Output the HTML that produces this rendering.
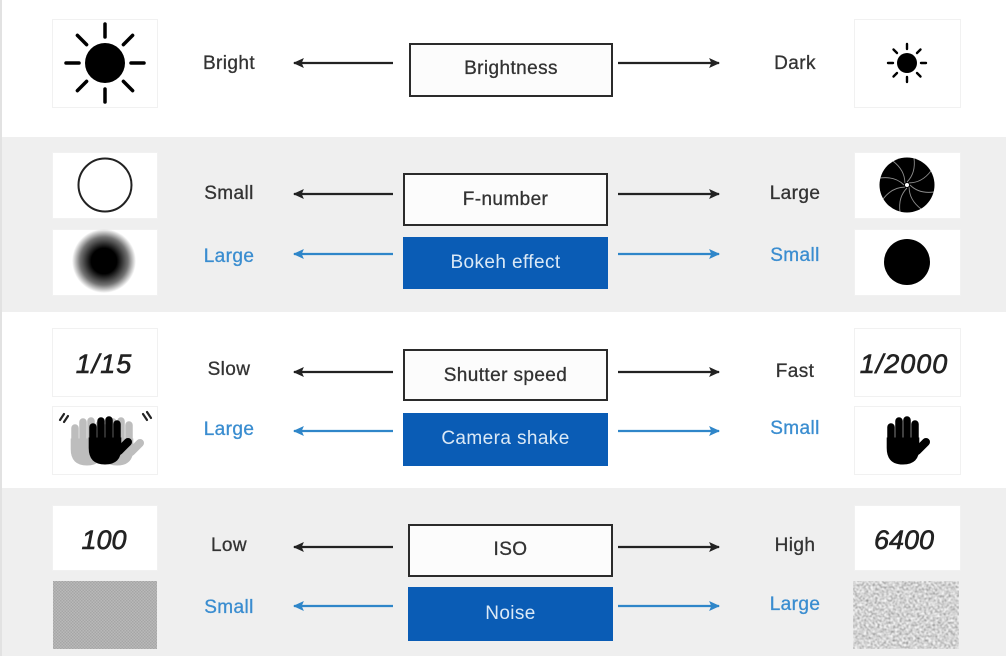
<!DOCTYPE html>
<html><head><meta charset="utf-8"><style>
html,body{margin:0;padding:0;background:#fff;}
svg{display:block;}
text{font-family:"Liberation Sans",Arial,sans-serif;}
</style></head><body>
<svg width="1006" height="656" viewBox="0 0 1006 656" xmlns="http://www.w3.org/2000/svg">
<defs>
  <marker id="ak" viewBox="0 0 10 10" refX="9" refY="5" markerWidth="5" markerHeight="5" orient="auto-start-reverse">
    <path d="M0,0.5 L10,5 L0,9.5 L2,5 Z" fill="#222"/>
  </marker>
  <marker id="ab" viewBox="0 0 10 10" refX="9" refY="5" markerWidth="5" markerHeight="5" orient="auto-start-reverse">
    <path d="M0,0.5 L10,5 L0,9.5 L2,5 Z" fill="#2f86c9"/>
  </marker>
  <radialGradient id="blur" cx="0.5" cy="0.5" r="0.5">
    <stop offset="0" stop-color="#000" stop-opacity="1"/>
    <stop offset="0.4" stop-color="#000" stop-opacity="1"/>
    <stop offset="0.75" stop-color="#000" stop-opacity="0.55"/>
    <stop offset="1" stop-color="#000" stop-opacity="0"/>
  </radialGradient>
  <pattern id="chk" width="3" height="3" patternUnits="userSpaceOnUse">
    <rect width="3" height="3" fill="#b9b9b9"/>
    <rect width="1.5" height="1.5" fill="#a6a6a6"/>
    <rect x="1.5" y="1.5" width="1.5" height="1.5" fill="#a6a6a6"/>
  </pattern>
  <filter id="noise" x="0" y="0" width="100%" height="100%">
    <feTurbulence type="fractalNoise" baseFrequency="0.45" numOctaves="2" seed="7" result="t"/>
    <feColorMatrix in="t" type="matrix" values="1.4 0 0 0 -0.05  1.4 0 0 0 -0.05  1.4 0 0 0 -0.05  0 0 0 0 1"/>
    <feGaussianBlur stdDeviation="0.4"/>
  </filter>
  <g id="hand">
    <g stroke-linecap="round" stroke-width="7.5">
      <line x1="-15" y1="-13" x2="-15" y2="5"/>
      <line x1="-7" y1="-19" x2="-7" y2="5"/>
      <line x1="1" y1="-20" x2="1" y2="5"/>
      <line x1="9" y1="-16" x2="9" y2="5"/>
    </g>
    <path d="M-18.8,-2 L12.8,-2 L12.8,8 Q12.8,24 -3,24 Q-18.8,24 -18.8,8 Z"/>
    <line x1="11" y1="11" x2="20" y2="2" stroke-width="8" stroke-linecap="round"/>
  </g>
</defs>

<!-- bands -->
<rect x="0" y="0" width="1006" height="656" fill="#fff"/>
<rect x="0" y="137" width="1006" height="175" fill="#efefef"/>
<rect x="0" y="488" width="1006" height="168" fill="#efefef"/>
<rect x="0" y="0" width="2" height="656" fill="#e2e2e2"/>

<!-- icon boxes -->
<g fill="#fff" stroke="#f1f1f1" stroke-width="1">
  <rect x="52.5" y="19.5" width="105" height="88"/>
  <rect x="854.5" y="19.5" width="106" height="88"/>
  <rect x="52.5" y="152.5" width="105" height="66"/>
  <rect x="52.5" y="229.5" width="105" height="66"/>
  <rect x="854.5" y="152.5" width="106" height="66"/>
  <rect x="854.5" y="229.5" width="106" height="66"/>
  <rect x="52.5" y="328.5" width="105" height="68"/>
  <rect x="52.5" y="406.5" width="105" height="68"/>
  <rect x="854.5" y="328.5" width="106" height="68"/>
  <rect x="854.5" y="406.5" width="106" height="68"/>
  <rect x="52.5" y="505.5" width="105" height="65"/>
  <rect x="854.5" y="505.5" width="106" height="65"/>
</g>
<rect x="53" y="581" width="104" height="68" fill="url(#chk)"/>
<rect x="853" y="581" width="106" height="68" fill="#aaa" filter="url(#noise)"/>

<!-- big sun -->
<g transform="translate(105,63)" fill="#000" stroke="#000" stroke-width="3.5" stroke-linecap="round">
  <circle r="20" stroke="none"/>
  <line x1="0" y1="-26" x2="0" y2="-39"/>
  <line x1="0" y1="26" x2="0" y2="39"/>
  <line x1="-26" y1="0" x2="-39" y2="0"/>
  <line x1="26" y1="0" x2="39" y2="0"/>
  <line x1="18.4" y1="-18.4" x2="27.6" y2="-27.6"/>
  <line x1="-18.4" y1="-18.4" x2="-27.6" y2="-27.6"/>
  <line x1="18.4" y1="18.4" x2="27.6" y2="27.6"/>
  <line x1="-18.4" y1="18.4" x2="-27.6" y2="27.6"/>
</g>
<!-- small sun -->
<g transform="translate(907,63)" fill="#000" stroke="#000" stroke-width="2.4" stroke-linecap="round">
  <circle r="10" stroke="none"/>
  <line x1="0" y1="-14" x2="0" y2="-19"/>
  <line x1="0" y1="14" x2="0" y2="19"/>
  <line x1="-14" y1="0" x2="-19" y2="0"/>
  <line x1="14" y1="0" x2="19" y2="0"/>
  <line x1="10" y1="-10" x2="13.5" y2="-13.5"/>
  <line x1="-10" y1="-10" x2="-13.5" y2="-13.5"/>
  <line x1="10" y1="10" x2="13.5" y2="13.5"/>
  <line x1="-10" y1="10" x2="-13.5" y2="13.5"/>
</g>

<!-- open circle -->
<circle cx="105" cy="185" r="26.5" fill="#fff" stroke="#222" stroke-width="2"/>
<!-- blurry circle -->
<circle cx="104" cy="261" r="32" fill="url(#blur)"/>
<!-- aperture -->
<g transform="translate(907,185)">
  <circle r="27.5" fill="#000"/>
  <g fill="none" stroke="#fff" stroke-width="0.9" opacity="0.55">
    <path d="M0,-3 Q9,-12 7,-27"/>
    <path d="M0,-3 Q9,-12 7,-27" transform="rotate(45)"/>
    <path d="M0,-3 Q9,-12 7,-27" transform="rotate(90)"/>
    <path d="M0,-3 Q9,-12 7,-27" transform="rotate(135)"/>
    <path d="M0,-3 Q9,-12 7,-27" transform="rotate(180)"/>
    <path d="M0,-3 Q9,-12 7,-27" transform="rotate(225)"/>
    <path d="M0,-3 Q9,-12 7,-27" transform="rotate(270)"/>
    <path d="M0,-3 Q9,-12 7,-27" transform="rotate(315)"/>
  </g>
  <circle r="2" fill="#fff"/>
</g>
<!-- solid circle -->
<circle cx="907" cy="262" r="23" fill="#000"/>

<!-- hands -->
<use href="#hand" transform="translate(90,441)" fill="#bdbdbd" stroke="#bdbdbd"/>
<use href="#hand" transform="translate(120,441)" fill="#bdbdbd" stroke="#bdbdbd"/>
<use href="#hand" transform="translate(108,440)" fill="#000" stroke="#000"/>
<g stroke="#222" stroke-width="2.2" stroke-linecap="round">
  <line x1="60" y1="420" x2="64" y2="414"/>
  <line x1="64" y1="422" x2="68" y2="416"/>
  <line x1="143" y1="414" x2="147" y2="420"/>
  <line x1="147" y1="412" x2="151" y2="418"/>
</g>
<use href="#hand" transform="translate(906,440)" fill="#000" stroke="#000"/>

<!-- number labels -->
<g font-style="italic" font-size="27" fill="#222" stroke="#222" stroke-width="0.6" text-anchor="middle">
  <text x="104" y="373" letter-spacing="1">1/15</text>
  <text x="904" y="373" letter-spacing="1">1/2000</text>
  <text x="104" y="549">100</text>
  <text x="904" y="549">6400</text>
</g>

<!-- center boxes -->
<g fill="#fcfcfc" stroke="#2b2b2b" stroke-width="2">
  <rect x="410" y="44" width="202" height="52"/>
  <rect x="404" y="174" width="203" height="51"/>
  <rect x="404" y="350" width="203" height="50"/>
  <rect x="409" y="525" width="203" height="51"/>
</g>
<g fill="#0a5cb5">
  <rect x="403" y="237" width="205" height="52"/>
  <rect x="403" y="413" width="205" height="53"/>
  <rect x="408" y="587" width="205" height="54"/>
</g>
<g font-size="19" text-anchor="middle" letter-spacing="0.4" stroke-width="0.3">
  <text x="511" y="74" fill="#333" stroke="#333">Brightness</text>
  <text x="505.5" y="205" fill="#333" stroke="#333">F-number</text>
  <text x="505.5" y="268" fill="#dbe9f6">Bokeh effect</text>
  <text x="505.5" y="381" fill="#333" stroke="#333">Shutter speed</text>
  <text x="505.5" y="444" fill="#dbe9f6">Camera shake</text>
  <text x="510.5" y="555" fill="#333" stroke="#333">ISO</text>
  <text x="510.5" y="619" fill="#dbe9f6">Noise</text>
</g>

<!-- arrows -->
<g stroke="#222" stroke-width="2.2" fill="none">
  <line x1="393" y1="63" x2="294" y2="63" marker-end="url(#ak)"/>
  <line x1="618" y1="63" x2="719" y2="63" marker-end="url(#ak)"/>
  <line x1="393" y1="194" x2="294" y2="194" marker-end="url(#ak)"/>
  <line x1="618" y1="194" x2="719" y2="194" marker-end="url(#ak)"/>
  <line x1="393" y1="372" x2="294" y2="372" marker-end="url(#ak)"/>
  <line x1="618" y1="372" x2="719" y2="372" marker-end="url(#ak)"/>
  <line x1="393" y1="547" x2="294" y2="547" marker-end="url(#ak)"/>
  <line x1="618" y1="547" x2="719" y2="547" marker-end="url(#ak)"/>
</g>
<g stroke="#2f86c9" stroke-width="2.2" fill="none">
  <line x1="393" y1="254" x2="294" y2="254" marker-end="url(#ab)"/>
  <line x1="618" y1="254" x2="719" y2="254" marker-end="url(#ab)"/>
  <line x1="393" y1="431" x2="294" y2="431" marker-end="url(#ab)"/>
  <line x1="618" y1="431" x2="719" y2="431" marker-end="url(#ab)"/>
  <line x1="393" y1="606" x2="294" y2="606" marker-end="url(#ab)"/>
  <line x1="618" y1="606" x2="719" y2="606" marker-end="url(#ab)"/>
</g>

<!-- side labels -->
<g font-size="19" text-anchor="middle" letter-spacing="0.4" stroke-width="0.3">
  <text x="229" y="69" fill="#333" stroke="#333">Bright</text>
  <text x="795" y="69" fill="#333" stroke="#333">Dark</text>
  <text x="229" y="199" fill="#333" stroke="#333">Small</text>
  <text x="795" y="199" fill="#333" stroke="#333">Large</text>
  <text x="229" y="262" fill="#3a8dd0" stroke="#3a8dd0">Large</text>
  <text x="795" y="261" fill="#3a8dd0" stroke="#3a8dd0">Small</text>
  <text x="229" y="375" fill="#333" stroke="#333">Slow</text>
  <text x="795" y="377" fill="#333" stroke="#333">Fast</text>
  <text x="229" y="435" fill="#3a8dd0" stroke="#3a8dd0">Large</text>
  <text x="795" y="434" fill="#3a8dd0" stroke="#3a8dd0">Small</text>
  <text x="229" y="551" fill="#333" stroke="#333">Low</text>
  <text x="795" y="551" fill="#333" stroke="#333">High</text>
  <text x="229" y="613" fill="#3a8dd0" stroke="#3a8dd0">Small</text>
  <text x="795" y="610" fill="#3a8dd0" stroke="#3a8dd0">Large</text>
</g>
</svg>
</body></html>
